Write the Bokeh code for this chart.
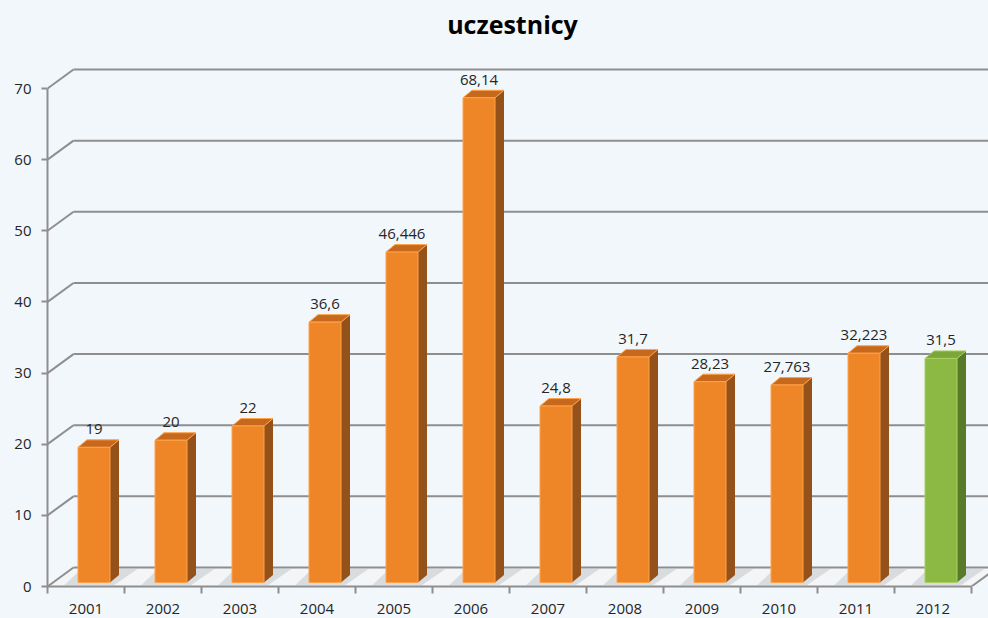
import numpy as np
from bokeh.plotting import figure
from bokeh.models import Range1d, FixedTicker, ColumnDataSource, GlobalInlineStyleSheet, Label
from bokeh.embed import file_html
from bokeh.resources import INLINE
from bokeh.core.properties import value

# ---- data ----
years = ["2001", "2002", "2003", "2004", "2005", "2006", "2007", "2008", "2009", "2010", "2011", "2012"]
values = [19, 20, 22, 36.6, 46.446, 68.14, 24.8, 31.7, 28.23, 27.763, 32.223, 31.5]
value_labels = ["19", "20", "22", "36,6", "46,446", "68,14", "24,8", "31,7", "28,23", "27,763", "32,223", "31,5"]
y_ticks = [0, 10, 20, 30, 40, 50, 60, 70]
title_text = "uczestnicy"

FONT = "Open Sans"
BG = "#F2F7FC"
GRID = "#8E8E8E"
TXT = "#262626"

front_col = ["#EE8526"] * 11 + ["#8BB944"]
side_col = ["#95511A"] * 11 + ["#587B29"]
top_col = ["#C7691D"] * 11 + ["#7AA63A"]
edge_col = ["#FFA24A"] * 11 + ["#A8D060"]

# ---- geometry helpers (pixel -> data unit conversion) ----
W, HGT = 988, 618
LEFT = 47
PXX = 77.0     # px per category
PXY = 7.114    # px per value unit
D = 26 / PXX   # wall depth (x)
H = 19 / PXY   # wall depth (y)
BW = 32 / PXX
BOFF = 8 / PXX
BLIFT = 4 / PXY
BD = 9 / PXX
BH = 7.5 / PXY

X_END = 0.5 + (W - LEFT) / PXX
FRAME_BOTTOM = 586
Y_END = FRAME_BOTTOM / PXY

p = figure(width=W, height=HGT, x_range=Range1d(0.5, X_END), y_range=Range1d(0, Y_END),
           output_backend="svg", toolbar_location=None, title=None,
           min_border_left=LEFT, min_border_right=0, min_border_top=0,
           min_border_bottom=HGT - FRAME_BOTTOM)
p.stylesheets = [GlobalInlineStyleSheet(css="body{background:%s;}" % BG)]
p.background_fill_color = BG
p.border_fill_color = BG
p.outline_line_color = None
p.xgrid.visible = False
p.ygrid.visible = False

# title (centered over the chart, near the top)
p.add_layout(Label(x=0.5 + (512 - LEFT) / PXX, y=(FRAME_BOTTOM - 23) / PXY, text=title_text,
                   text_align="center", text_baseline="middle", text_font=FONT,
                   text_font_size="25px", text_font_style="bold", text_color="#000000"))

# ---- floor ----
p.patch([0.5, 12.5, 12.5 + D, 0.5 + D], [0, 0, H, H], fill_color="#F4F5F6", line_color=None)

# ---- back wall grid lines ----
p.segment(x0=[0.5 + D] * len(y_ticks), y0=[v + H for v in y_ticks],
          x1=[X_END + 1] * len(y_ticks), y1=[v + H for v in y_ticks],
          line_color=GRID, line_width=2)
p.segment(x0=[0.5] * len(y_ticks), y0=y_ticks, x1=[0.5 + D] * len(y_ticks), y1=[v + H for v in y_ticks],
          line_color=GRID, line_width=2)
p.segment(x0=[12.5], y0=[0], x1=[12.5 + D], y1=[H], line_color=GRID, line_width=2)

# ---- bars ----
x = np.arange(1, len(years) + 1)
vals = np.array(values, dtype=float)
xc = x + BOFF
left = xc - BW / 2
right = xc + BW / 2
bot = np.full(len(x), BLIFT)
top = vals + BLIFT

# floor shadows
p.patches(xs=[[l - 0.18, r + 0.05, r + BD + 0.25, l + 0.05] for l, r in zip(left, right)],
          ys=[[BLIFT * 0.3, BLIFT * 0.3, H * 0.95, H * 0.95] for _ in x],
          fill_color="#B9BEC3", fill_alpha=0.45, line_color=None)

p.patches(xs=[[r, r + BD, r + BD, r] for r in right],
          ys=[[b, b + BH, t + BH, t] for b, t in zip(bot, top)],
          fill_color=side_col, line_color=None)
p.patches(xs=[[l, l + BD, r + BD, r] for l, r in zip(left, right)],
          ys=[[t, t + BH, t + BH, t] for t in top],
          fill_color=top_col, line_color=edge_col, line_width=1)
src = ColumnDataSource(dict(left=left, right=right, bottom=bot, top=top, fc=front_col, ec=edge_col,
                            xc=xc, lab=value_labels))
p.quad(left="left", right="right", bottom="bottom", top="top", fill_color="fc", line_color="ec",
       line_width=1, source=src)

p.text(x="xc", y="top", text="lab", source=src, text_align="center", text_baseline="bottom",
       y_offset=-13, text_font=value(FONT), text_font_size="15px", text_color=TXT)

# ---- axes ----
ya = p.yaxis[0]
ya.ticker = FixedTicker(ticks=y_ticks, minor_ticks=[])
ya.bounds = (0, 70)
ya.axis_line_color = GRID
ya.axis_line_width = 2
ya.major_tick_line_color = GRID
ya.major_tick_line_width = 2
ya.major_tick_out = 6
ya.major_tick_in = 0
ya.minor_tick_line_color = None
ya.major_label_standoff = 10
ya.major_label_text_font = FONT
ya.major_label_text_font_size = "15px"
ya.major_label_text_color = TXT

xa = p.xaxis[0]
xa.ticker = FixedTicker(ticks=list(x), minor_ticks=[i + 0.5 for i in range(0, 13)])
xa.major_label_overrides = {int(i): y for i, y in zip(x, years)}
xa.bounds = (0.5, 12.5)
xa.axis_line_color = GRID
xa.axis_line_width = 2
xa.major_tick_line_color = None
xa.major_tick_out = 0
xa.major_tick_in = 0
xa.minor_tick_line_color = GRID
xa.minor_tick_line_width = 2
xa.minor_tick_out = 7
xa.minor_tick_in = 0
xa.major_label_standoff = 10
xa.major_label_text_font = FONT
xa.major_label_text_font_size = "15px"
xa.major_label_text_color = TXT

open("out.html", "w").write(file_html(p, INLINE))
